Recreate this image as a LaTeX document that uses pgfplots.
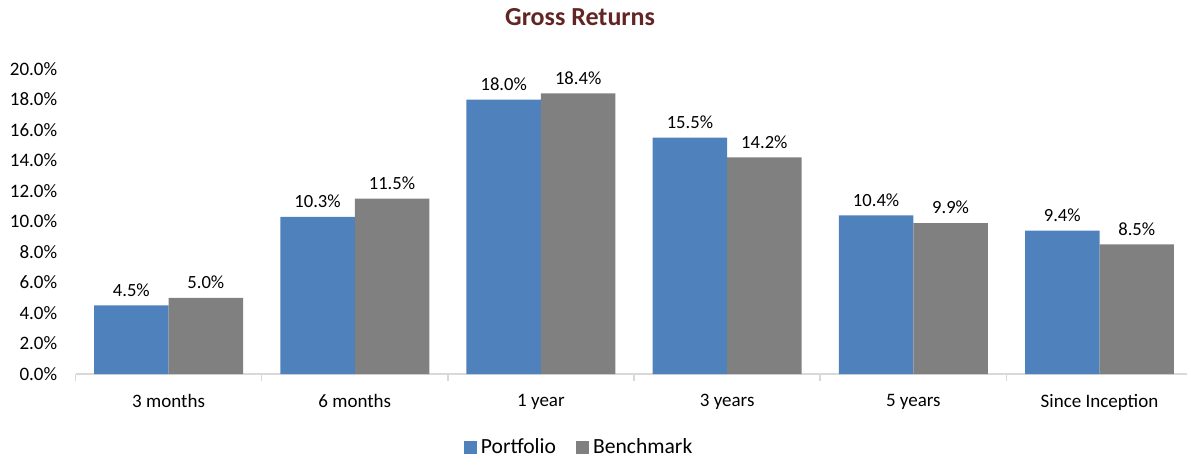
\documentclass[border=0pt]{standalone}
\usepackage{fontspec}
\setmainfont{Carlito}
\usepackage{pgfplots}
\pgfplotsset{compat=1.18}
\definecolor{pblue}{HTML}{4F81BD}
\definecolor{bgray}{HTML}{808080}
\definecolor{ttl}{HTML}{632523}
\definecolor{axgray}{HTML}{D9D9D9}

\begin{document}
\begin{tikzpicture}
\begin{axis}[
  width=555.75pt, height=152.5pt, scale only axis,
  ybar, bar width=0.4,
  xmin=-0.5, xmax=5.47, ymin=0, ymax=20,
  axis x line=bottom, axis y line=left,
  x axis line style={-, draw=axgray, line width=0.8pt},
  y axis line style={draw=none},
  xtick={0,1,2,3,4,5},
  xticklabels={3 months,6 months,1 year,3 years,5 years,Since Inception},
  minor xtick={-0.5,0.5,1.5,2.5,3.5,4.5,5.5},
  major x tick style={draw=none},
  minor x tick style={draw=axgray, line width=0.8pt},
  xtick align=outside, minor tick length=3.5pt,
  ytick={0,2,...,20}, ytick style={draw=none},
  /pgf/number format/assume math mode=true,
  yticklabel={\pgfmathprintnumber[fixed,fixed zerofill,precision=1]{\tick}\%},
  ticklabel style={font=\fontsize{9.5}{11}\selectfont, text=black},
  yticklabel style={xshift=-3.5pt},
  xticklabel style={yshift=-2.5pt},
  nodes near coords={\pgfmathprintnumber[fixed,fixed zerofill,precision=1,assume math mode=true]{\pgfplotspointmeta}\%},
  nodes near coords style={font=\fontsize{9.3}{11}\selectfont, text=black, anchor=south, yshift=1pt},
  title={\bfseries Gross Returns},
  title style={font=\fontsize{13}{15}\selectfont, text=ttl, at={(0.454,1)}, anchor=center, yshift=20pt},
  legend style={at={(0.454,0)}, anchor=center, yshift=-36.5pt, draw=none, fill=none,
    legend columns=2, font=\fontsize{10.8}{12}\selectfont,
    /tikz/every odd column/.append style={column sep=0pt},
    /tikz/every even column/.append style={column sep=8pt}},
  legend image code/.code={\fill[#1] (0pt,-3.25pt) rectangle (6.5pt,3.25pt);},
]
\addplot[fill=pblue, draw=none, bar shift=-0.2] coordinates {(0,4.5) (1,10.3) (2,18.0) (3,15.5) (4,10.4) (5,9.4)};
\addplot[fill=bgray, draw=none, bar shift=0.2] coordinates {(0,5.0) (1,11.5) (2,18.4) (3,14.2) (4,9.9) (5,8.5)};
\legend{Portfolio,Benchmark}
\end{axis}
\pgfresetboundingbox
\path[use as bounding box] (current axis.south west) ++(-37.75pt,-41.5pt) rectangle ++(593.5pt,228.5pt);
\end{tikzpicture}
\end{document}
